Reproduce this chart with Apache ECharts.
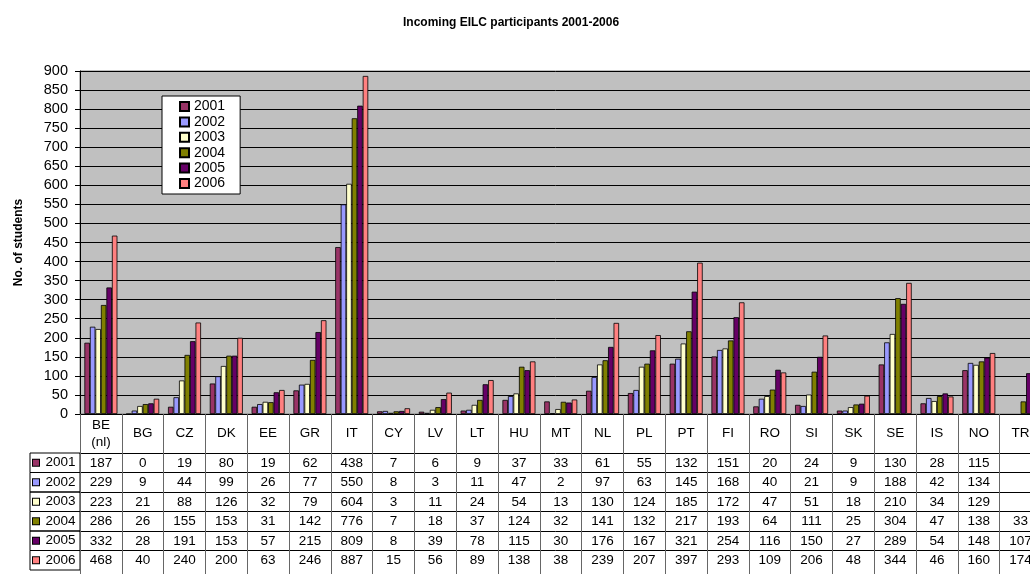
<!DOCTYPE html>
<html>
<head>
<meta charset="utf-8">
<script src="https://cdn.jsdelivr.net/npm/echarts@6/dist/echarts.min.js"></script>
<style>html,body{margin:0;padding:0;background:#fff;}#c{width:1030px;height:574px;}</style>
</head>
<body>
<div id="c"></div>
<script>
const categories = ['BE\n(nl)','BG','CZ','DK','EE','GR','IT','CY','LV','LT','HU','MT','NL','PL','PT','FI','RO','SI','SK','SE','IS','NO','TR'];
const years = ['2001','2002','2003','2004','2005','2006'];
const v2001 = [187,0,19,80,19,62,438,7,6,9,37,33,61,55,132,151,20,24,9,130,28,115,null];
const v2002 = [229,9,44,99,26,77,550,8,3,11,47,2,97,63,145,168,40,21,9,188,42,134,null];
const v2003 = [223,21,88,126,32,79,604,3,11,24,54,13,130,124,185,172,47,51,18,210,34,129,null];
const v2004 = [286,26,155,153,31,142,776,7,18,37,124,32,141,132,217,193,64,111,25,304,47,138,33];
const v2005 = [332,28,191,153,57,215,809,8,39,78,115,30,176,167,321,254,116,150,27,289,54,148,107];
const v2006 = [468,40,240,200,63,246,887,15,56,89,138,38,239,207,397,293,109,206,48,344,46,160,174];
const yTicks = {min:0, max:900, interval:50};
const colors = ['#993366','#9999FF','#FFFFCC','#808000','#660066','#FF8080'];
const seriesValues = [v2001,v2002,v2003,v2004,v2005,v2006];

const FONT = '"Liberation Sans", Arial, sans-serif';
const rowH = 19.5;

const tableAxes = years.map((y, i) => ({
  type: 'category',
  gridIndex: 0,
  position: 'bottom',
  offset: 39 + rowH * i,
  data: seriesValues[i].map(v => v === null ? '' : String(v)),
  axisLine: {show: true, lineStyle: {color: '#000', width: 1}},
  axisTick: {show: false},
  splitLine: {show: false},
  axisLabel: {interval: 0, margin: 10, verticalAlign: 'middle', color: '#000', fontSize: 13.5, fontFamily: FONT},
  name: '{sq|}{t|' + y + '}',
  nameLocation: 'start',
  nameGap: 0,
  nameTextStyle: {
    align: 'right', verticalAlign: 'top',
    height: rowH, lineHeight: rowH,
    padding: [0, 0, 0, 3],
    borderColor: '#000', borderWidth: 1,
    rich: {
      sq: {width: 6, height: 6, backgroundColor: colors[i], borderColor: '#000', borderWidth: 1},
      t: {width: 39, fontSize: 13.5, fontFamily: FONT, color: '#000', padding: [0, 0, 0, 2], align: 'left'}
    }
  }
}));

const chart = echarts.init(document.getElementById('c'), null, {renderer: 'canvas'});
chart.setOption({
  animation: false,
  backgroundColor: '#fff',
  color: colors,
  title: {
    text: 'Incoming EILC participants 2001-2006',
    left: 398, top: 12,
    textStyle: {fontSize: 12, fontWeight: 'bold', color: '#000', fontFamily: FONT}
  },
  legend: {
    data: years,
    orient: 'vertical',
    left: 162, top: 96,
    backgroundColor: '#fff',
    borderColor: '#000', borderWidth: 1,
    padding: [3, 15, 3, 17],
    itemWidth: 9, itemHeight: 9, itemGap: 0.4, itemTextGap: 4,
    textStyle: {fontSize: 14, lineHeight: 15, color: '#000', fontFamily: FONT},
    icon: 'rect'
  },
  grid: {
    left: 80, top: 71, width: 961.5, height: 343,
    containLabel: false,
    outerBoundsMode: 'none',
    show: true, backgroundColor: '#C0C0C0', borderColor: '#808080', borderWidth: 1
  },
  xAxis: [{
    type: 'category',
    data: categories,
    axisLine: {show: true, lineStyle: {color: '#000', width: 1}},
    axisTick: {show: true, length: 170, lineStyle: {color: '#666'}},
    axisLabel: {interval: 0, margin: 19.5, verticalAlign: 'middle', lineHeight: 17, color: '#000', fontSize: 13.5, fontFamily: FONT},
    splitLine: {show: false}
  }].concat(tableAxes),
  yAxis: {
    type: 'value',
    min: yTicks.min, max: yTicks.max, interval: yTicks.interval,
    name: 'No. of students',
    nameLocation: 'middle',
    nameGap: 55,
    nameTextStyle: {fontSize: 12, fontWeight: 'bold', color: '#000', fontFamily: FONT},
    axisLine: {show: true, lineStyle: {color: '#000'}},
    axisTick: {show: true, length: 5, lineStyle: {color: '#000'}},
    axisLabel: {color: '#000', fontSize: 14.5, margin: 12, fontFamily: FONT},
    splitLine: {show: true, lineStyle: {color: '#000', width: 1}}
  },
  series: years.map((y, i) => ({
    name: y,
    type: 'bar',
    xAxisIndex: 0,
    data: seriesValues[i],
    barGap: '0%',
    barCategoryGap: '21%',
    itemStyle: {color: colors[i], borderColor: '#000', borderWidth: 0.8}
  }))
});
</script>
</body>
</html>
